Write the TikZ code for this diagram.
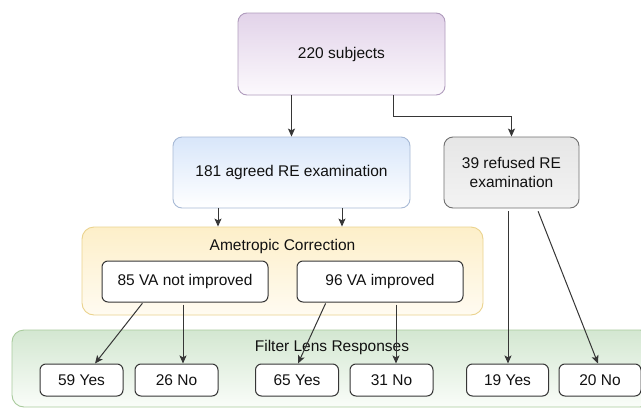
\documentclass[tikz,border=0pt]{standalone}
\usepackage{fontspec}
\setmainfont{Liberation Sans}
\usetikzlibrary{arrows.meta}
\definecolor{pTop}{HTML}{E2D3E9}
\definecolor{pBot}{HTML}{FCF9FD}
\definecolor{pLine}{HTML}{B09CBD}
\definecolor{bTop}{HTML}{D8E6FA}
\definecolor{bBot}{HTML}{FFFFFF}
\definecolor{bLine}{HTML}{A8BAD6}
\definecolor{gTop}{HTML}{E6E6E6}
\definecolor{gBot}{HTML}{F3F3F3}
\definecolor{gLine}{HTML}{707070}
\definecolor{oTop}{HTML}{FDEFC9}
\definecolor{oBot}{HTML}{FFFBF1}
\definecolor{oLine}{HTML}{EBD38E}
\definecolor{grTop}{HTML}{D3E7D1}
\definecolor{grBot}{HTML}{FAFDF9}
\definecolor{grLine}{HTML}{A9CB9D}
\definecolor{ink}{HTML}{111111}
\definecolor{edge}{HTML}{363636}
\tikzset{
  box/.style={rounded corners=9pt, line width=0.9pt, inner sep=0pt, align=center, font=\fontsize{15.5}{19}\selectfont, text=ink},
  topbox/.style={box, draw=pLine, top color=pTop, bottom color=pBot},
  bluebox/.style={box, draw=bLine, top color=bTop, bottom color=bBot},
  graybox/.style={box, draw=gLine, top color=gTop, bottom color=gBot},
  groupo/.style={rounded corners=12pt, line width=0.9pt, draw=oLine, top color=oTop, bottom color=oBot, inner sep=0pt},
  groupg/.style={rounded corners=12pt, line width=0.9pt, draw=grLine, top color=grTop, bottom color=grBot, inner sep=0pt},
  wbox/.style={box, rounded corners=6pt, draw=edge, fill=white, line width=1pt},
  ttl/.style={font=\fontsize{15.5}{19}\selectfont, text=ink, inner sep=0pt},
  arr/.style={draw=edge, line width=1pt, -{Stealth[length=8pt,width=7pt,inset=1.8pt]}},
}
\begin{document}
\begin{tikzpicture}[x=1pt,y=-1pt]
\useasboundingbox (0,0) rectangle (641,410);
\clip (0,0) rectangle (641,410);
\fill[white] (0,0) rectangle (641,410);
% groups
\node[groupo, minimum width=401pt, minimum height=88pt] (orange) at (282.5,271) {};
\node[groupg, minimum width=640pt, minimum height=77pt] (green) at (332,368.5) {};
\node[ttl] (otitle) at (282.5,246) {Ametropic Correction};
\node[ttl] (gtitle) at (332,347) {Filter Lens Responses};
% main boxes
\node[topbox, minimum width=207pt, minimum height=82pt] (top) at (341.5,54) {220 subjects};
\node[bluebox, minimum width=237pt, minimum height=71pt] (blue) at (291.5,172.5) {181 agreed RE examination};
\node[graybox, minimum width=135pt, minimum height=71pt] (gray) at (511.5,172.5) {39 refused RE\\examination};
\node[wbox, minimum width=166pt, minimum height=41pt] (n85) at (185,281.5) {85 VA not improved};
\node[wbox, minimum width=166pt, minimum height=41pt] (n96) at (380,281.5) {96 VA improved};
% bottom boxes
\node[wbox, minimum width=83pt, minimum height=32pt] (y59) at (81.5,380) {59 Yes};
\node[wbox, minimum width=83pt, minimum height=32pt] (n26) at (176.5,380) {26 No};
\node[wbox, minimum width=83pt, minimum height=32pt] (y65) at (297,380) {65 Yes};
\node[wbox, minimum width=83pt, minimum height=32pt] (n31) at (391.5,380) {31 No};
\node[wbox, minimum width=82pt, minimum height=32pt] (y19) at (507.5,380) {19 Yes};
\node[wbox, minimum width=82pt, minimum height=32pt] (n20) at (600,380) {20 No};
% connectors
\draw[arr] (top.south -| blue.north) -- (blue.north);
\draw[arr] ([xshift=51.5pt]top.south) -- ++(0,21) -| (gray.north);
\draw[arr] ([xshift=-73.5pt]blue.south) -- ([xshift=-73.5pt]blue.south |- orange.north);
\draw[arr] ([xshift=50.5pt]blue.south) -- ([xshift=50.5pt]blue.south |- orange.north);
\draw[arr, shorten <=1pt] ([xshift=-42pt]n85.south) -- ([xshift=13.5pt]y59.north);
\draw[arr, shorten <=2pt] ([xshift=-2pt]n85.south) -- ([xshift=6.5pt]n26.north);
\draw[arr, shorten <=1pt] ([xshift=-54pt]n96.south) -- ([xshift=1pt]y65.north);
\draw[arr, shorten <=2pt] ([xshift=16pt]n96.south) -- ([xshift=4.5pt]n31.north);
\draw[arr, shorten <=3pt] ([xshift=-3.5pt]gray.south) -- ([xshift=0.5pt]y19.north);
\draw[arr, shorten <=3pt] ([xshift=25.5pt]gray.south) -- ([xshift=-2pt]n20.north);
\end{tikzpicture}
\end{document}
